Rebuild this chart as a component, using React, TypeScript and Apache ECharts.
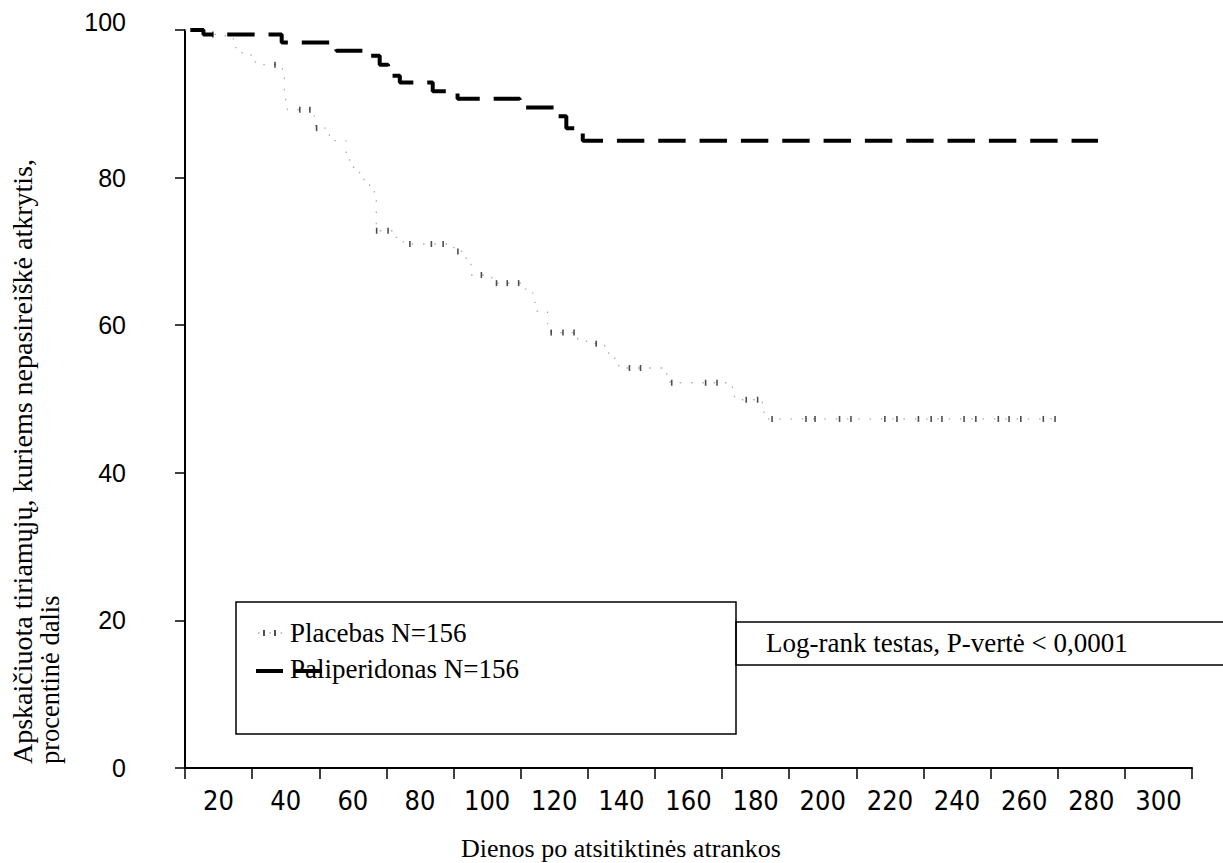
import React, { useEffect, useRef } from "react";
import * as echarts from "echarts";

// ---- data (days, % without relapse) ----
const xTickLabels = ["20", "40", "60", "80", "100", "120", "140", "160", "180", "200", "220", "240", "260", "280", "300"];

const placeboDays = [0, 5, 12, 15, 17, 21, 29, 29.6, 30, 30.5, 38.5, 39, 43, 48, 49, 52, 53.3, 55, 56.4, 57, 62, 64, 66.5, 78.9, 81, 83.3, 84.8, 85.2, 91.4, 100.6, 103.6, 104.2, 104.8, 108, 109, 117, 119.6, 125, 126.2, 128, 129.2, 143.5, 144.5, 163.1, 163.7, 172, 172.5, 259.5];
const placeboPct = [100, 99.4, 98.8, 97.6, 96.6, 95.3, 93.5, 91.9, 90.3, 89.2, 88.3, 86.7, 85.0, 82.8, 81.4, 80.1, 79.0, 78.1, 77.2, 72.8, 71.9, 71.3, 71.0, 70.5, 70.0, 69.1, 68.5, 66.8, 65.7, 64.9, 64.3, 63.1, 61.9, 60.2, 59.0, 58.1, 57.5, 57.1, 56.0, 55.3, 54.2, 52.8, 52.2, 51.1, 49.9, 49.0, 47.3, 47.3];

const placeboCensorDays = [8.3, 26.8, 34.2, 37.2, 39.2, 57.1, 60.5, 67.0, 73.4, 76.9, 81.3, 88.3, 92.8, 96.0, 99.4, 109.1, 112.6, 115.9, 122.5, 132.4, 135.7, 145.0, 155.1, 158.5, 167.2, 170.6, 174.9, 185.0, 187.7, 195.0, 198.4, 208.5, 212.1, 218.5, 222.3, 225.5, 232.1, 235.6, 242.3, 245.5, 249.0, 255.7, 259.2];
const placeboCensorPct = [99.4, 95.3, 89.2, 89.2, 86.7, 72.8, 72.8, 71.0, 71.0, 71.0, 70.0, 66.8, 65.7, 65.7, 65.7, 59.0, 59.0, 59.0, 57.5, 54.2, 54.2, 52.2, 52.2, 52.2, 49.9, 49.9, 47.3, 47.3, 47.3, 47.3, 47.3, 47.3, 47.3, 47.3, 47.3, 47.3, 47.3, 47.3, 47.3, 47.3, 47.3, 47.3, 47.3];

const palipDays = [0, 5.5, 28.8, 45.1, 54, 58, 60.5, 64, 73.8, 81.2, 99.7, 110.6, 113.6, 118.5, 272];
const palipPct = [100, 99.4, 98.3, 97.2, 96.5, 95.3, 93.8, 92.9, 91.7, 90.7, 89.5, 88.3, 86.7, 85.0, 85.0];

const legendPlacebo = "Placebas N=156";
const legendPalip = "Paliperidonas N=156";
const logRankText = "Log-rank testas, P-vertė < 0,0001";
const xTitle = "Dienos po atsitiktinės atrankos";
const yTitle1 = "Apskaičiuota tiriamųjų, kuriems nepasireiškė atkrytis,";
const yTitle2 = "procentinė dalis";

const SERIF = '"Liberation Serif", "Times New Roman", serif';
const SANS = '"Liberation Sans", Arial, sans-serif';
const NARROW = '"Liberation Sans Narrow", "Arial Narrow", "DejaVu Sans Condensed", sans-serif';

const txt = (text: string, size: number, align: string) => ({
  text,
  fontFamily: SERIF,
  fontSize: size,
  fill: "#000",
  align,
  verticalAlign: "middle",
  textAlign: align,
  textVerticalAlign: "middle",
});

export default function App() {
  const ref = useRef<HTMLDivElement>(null);
  useEffect(() => {
    if (!ref.current) return;
    const chart = echarts.init(ref.current, null, { renderer: "svg" });
    const zip = (a: number[], b: number[]) => a.map((v, i) => [v, b[i]]);
    chart.setOption({
      animation: false,
      grid: { left: 185, right: 31, top: 30, bottom: 95 },
      xAxis: [
        { type: "value", min: 0, max: 300, show: false },
        {
          type: "category",
          data: xTickLabels,
          boundaryGap: true,
          position: "bottom",
          axisLine: { show: true, lineStyle: { color: "#000", width: 2 } },
          axisTick: { show: true, length: 11, lineStyle: { color: "#000", width: 1.5 } },
          axisLabel: { interval: 0, margin: 19, color: "#000", fontFamily: NARROW, fontSize: 27 },
          splitLine: { show: false },
        },
      ],
      yAxis: {
        type: "value",
        min: 0,
        max: 100,
        interval: 20,
        axisLine: { show: true, lineStyle: { color: "#000", width: 2 } },
        axisTick: { show: true, length: 10, lineStyle: { color: "#000", width: 1.5 } },
        splitLine: { show: false },
        axisLabel: {
          margin: 59,
          color: "#000",
          fontFamily: SANS,
          fontSize: 25,
          formatter: (v: number) => (v === 100 ? "{top|100}" : String(v)),
          rich: { top: { fontFamily: SANS, fontSize: 25, color: "#000", padding: [0, 0, 16, 0] } },
        },
      },
      series: [
        {
          name: legendPlacebo,
          type: "line",
          step: "end",
          xAxisIndex: 0,
          data: zip(placeboDays, placeboPct),
          showSymbol: false,
          symbol: "none",
          lineStyle: { color: "#ababab", width: 1.3, type: [1.5, 9.8] },
          z: 3,
        },
        {
          name: legendPlacebo + " censored",
          type: "scatter",
          xAxisIndex: 0,
          data: zip(placeboCensorDays, placeboCensorPct),
          symbol: "rect",
          symbolSize: [1.6, 6],
          itemStyle: { color: "#222" },
          z: 4,
        },
        {
          name: legendPalip,
          type: "line",
          step: "end",
          xAxisIndex: 0,
          data: zip(palipDays, palipPct),
          showSymbol: false,
          symbol: "none",
          lineStyle: { color: "#000", width: 4, type: [27.4, 13.93], dashOffset: 36.2 },
          z: 5,
        },
      ],
      graphic: [
        { type: "text", x: 22, y: 764, rotation: Math.PI / 2, style: txt(yTitle1, 28, "left") },
        { type: "text", x: 50, y: 764, rotation: Math.PI / 2, style: txt(yTitle2, 26.5, "left") },
        { type: "text", x: 621, y: 848, style: txt(xTitle, 26, "center") },
        {
          type: "rect",
          shape: { x: 236, y: 602, width: 500, height: 132 },
          style: { fill: "none", stroke: "#000", lineWidth: 1.5 },
        },
        {
          type: "rect",
          shape: { x: 736, y: 622, width: 520, height: 43 },
          style: { fill: "none", stroke: "#000", lineWidth: 1.5 },
        },
        { type: "text", x: 766, y: 643, style: txt(logRankText, 27, "left") },
        { type: "text", x: 290, y: 633, style: txt(legendPlacebo, 27, "left") },
        { type: "text", x: 290, y: 669, style: txt(legendPalip, 27, "left") },
        {
          type: "line",
          shape: { x1: 258, y1: 633, x2: 286, y2: 633 },
          style: { stroke: "#ababab", lineWidth: 1.3, lineDash: [1.5, 9.8] },
        },
        {
          type: "line",
          shape: { x1: 264, y1: 630, x2: 264, y2: 636 },
          style: { stroke: "#222", lineWidth: 1.6 },
        },
        {
          type: "line",
          shape: { x1: 275, y1: 630, x2: 275, y2: 636 },
          style: { stroke: "#222", lineWidth: 1.6 },
        },
        {
          type: "line",
          z: 10,
          shape: { x1: 256, y1: 671, x2: 324, y2: 671 },
          style: { stroke: "#000", lineWidth: 4, lineDash: [27, 12] },
        },
      ],
    });
    return () => chart.dispose();
  }, []);
  return <div ref={ref} style={{ position: "fixed", left: 0, top: 0, width: 1223, height: 863, background: "#fff" }} />;
}
